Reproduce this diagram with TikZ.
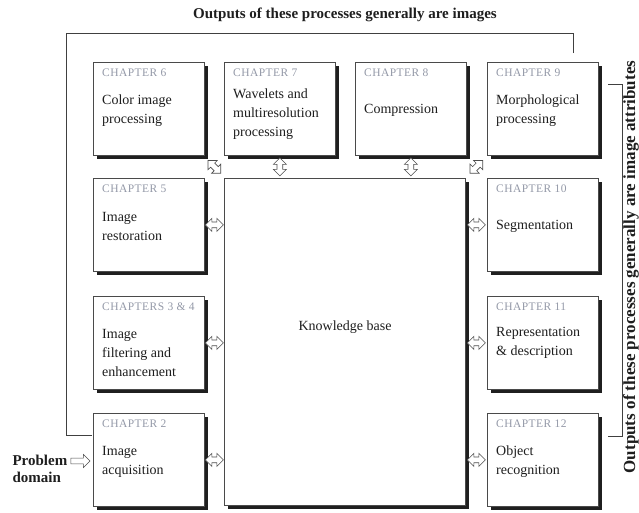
\documentclass[tikz,border=0pt]{standalone}
\usepackage{fontspec}
\setmainfont{Liberation Serif}
\usetikzlibrary{shapes.arrows,calc,shadows}
\definecolor{chapgray}{HTML}{9499A8}
\definecolor{boxline}{HTML}{4A4A4A}
\definecolor{txt}{HTML}{1E1E1E}
\begin{document}
\begin{tikzpicture}[x=1pt,y=-1pt,
  box/.style={draw=boxline, fill=white, line width=0.8pt, anchor=north west, inner sep=0pt,
    minimum width=111pt, minimum height=93pt,
    general shadow={fill=black!88, shadow xshift=4pt, shadow yshift=-4pt}},
  chap/.style={anchor=base west, inner sep=0pt, text=chapgray,
    font=\fontsize{11.5}{13}\selectfont\addfontfeature{LetterSpace=4}},
  body/.style={anchor=base west, inner sep=0pt, align=left, text=txt,
    font=\fontsize{14}{19}\selectfont},
  dbl/.style={double arrow, draw=black!70, fill=white, line width=0.6pt,
    inner xsep=0pt, inner ysep=2.5pt,
    minimum height=18pt, minimum width=13pt, double arrow head extend=3.5pt},
  sgl/.style={single arrow, draw=black!70, fill=white, line width=0.6pt,
    inner xsep=0pt, inner ysep=2.5pt,
    minimum height=19pt, minimum width=13pt, single arrow head extend=3.5pt},
  loopline/.style={draw=black!75, line width=0.7pt},
  bold/.style={font=\bfseries\fontsize{15}{17}\selectfont, text=txt}
]
\useasboundingbox (0,0) rectangle (639,512);

% boxes
\node[box] (c6) at (93,62) {};
\node[box] (c7) at (224,62) {};
\node[box] (c8) at (355,62) {};
\node[box] (c9) at (487,62) {};
\node[box] (c5) at (93,178) {};
\node[box] (c10) at (487,178) {};
\node[box] (c34) at (93,296) {};
\node[box] (c11) at (487,296) {};
\node[box] (c2) at (93,413) {};
\node[box] (c12) at (487,413) {};
\node[box, minimum width=241pt, minimum height=327pt] (kb) at (224,178) {};

% chapter labels
\node[chap] (l6) at ($(c6.north west)+(9,14)$) {CHAPTER 6};
\node[chap] (l7) at ($(c7.north west)+(9,14)$) {CHAPTER 7};
\node[chap] (l8) at ($(c8.north west)+(9,14)$) {CHAPTER 8};
\node[chap] (l9) at ($(c9.north west)+(9,14)$) {CHAPTER 9};
\node[chap] (l5) at ($(c5.north west)+(9,14)$) {CHAPTER 5};
\node[chap] (l10) at ($(c10.north west)+(9,14)$) {CHAPTER 10};
\node[chap] (l34) at ($(c34.north west)+(9,14)$) {CHAPTERS 3 \& 4};
\node[chap] (l11) at ($(c11.north west)+(9,14)$) {CHAPTER 11};
\node[chap] (l2) at ($(c2.north west)+(9,14)$) {CHAPTER 2};
\node[chap] (l12) at ($(c12.north west)+(9,14)$) {CHAPTER 12};

% body texts (base anchor = last line baseline)
\node[body] (t6) at ($(c6.north west)+(9,61)$) {Color image\\processing};
\node[body] (t7) at ($(c7.north west)+(9,74)$) {Wavelets and\\multiresolution\\processing};
\node[body] (t8) at ($(c8.north west)+(9,51)$) {Compression};
\node[body] (t9) at ($(c9.north west)+(9,61)$) {Morphological\\processing};
\node[body] (t5) at ($(c5.north west)+(9,62)$) {Image\\restoration};
\node[body] (t10) at ($(c10.north west)+(9,51)$) {Segmentation};
\node[body] (t34) at ($(c34.north west)+(9,80)$) {Image\\filtering and\\enhancement};
\node[body] (t11) at ($(c11.north west)+(9,59)$) {Representation\\\& description};
\node[body] (t2) at ($(c2.north west)+(9,61)$) {Image\\acquisition};
\node[body] (t12) at ($(c12.north west)+(9,61)$) {Object\\recognition};
\node[body, anchor=center, font=\fontsize{14}{16}\selectfont] (tkb) at (345,327) {Knowledge base};

% double arrows
\node[dbl] (a5) at ($(c5.east)!0.5!(kb.west |- c5.east)$) {};
\node[dbl] (a34) at ($(c34.east)!0.5!(kb.west |- c34.east)$) {};
\node[dbl] (a2) at ($(c2.east)!0.5!(kb.west |- c2.east)$) {};
\node[dbl] (a10) at ($(c10.west)!0.5!(kb.east |- c10.west)$) {};
\node[dbl] (a11) at ($(c11.west)!0.5!(kb.east |- c11.west)$) {};
\node[dbl] (a12) at ($(c12.west)!0.5!(kb.east |- c12.west)$) {};
\node[dbl, rotate=90] (a7) at ($(c7.south)!0.5!(c7.south |- kb.north)$) {};
\node[dbl, rotate=90] (a8) at ($(c8.south)!0.5!(c8.south |- kb.north)$) {};
\node[dbl, rotate=-45] (a6) at ($(c6.south east)!0.5!(kb.north west)$) {};
\node[dbl, rotate=45] (a9) at ($(c9.south west)!0.5!(kb.north east)$) {};

% problem domain
\node[bold, align=left, anchor=west] (pd) at (9,469) {Problem\\domain};
\node[sgl] (apd) at (79,461) {};

% loop line (outputs are images)
\coordinate (ls) at (573,53);
\coordinate (le) at (66,435);
\draw[loopline] (ls) -- ++(0,-20) -| (le) -- ($(c2.north west)+(-1,22)$);

% bracket (outputs are image attributes)
\coordinate (bt) at (608,84);
\coordinate (bb) at (608,436);
\draw[loopline] (bt) -- ++(14,0) -- ($(bb)+(14,0)$) -- (bb);

% titles
\node[bold] (title) at (345,15) {Outputs of these processes generally are images};
\node[bold, font=\bfseries\fontsize{17}{19}\selectfont, rotate=90] (rtitle) at (631,267) {Outputs of these processes generally are image attributes};
\end{tikzpicture}
\end{document}
